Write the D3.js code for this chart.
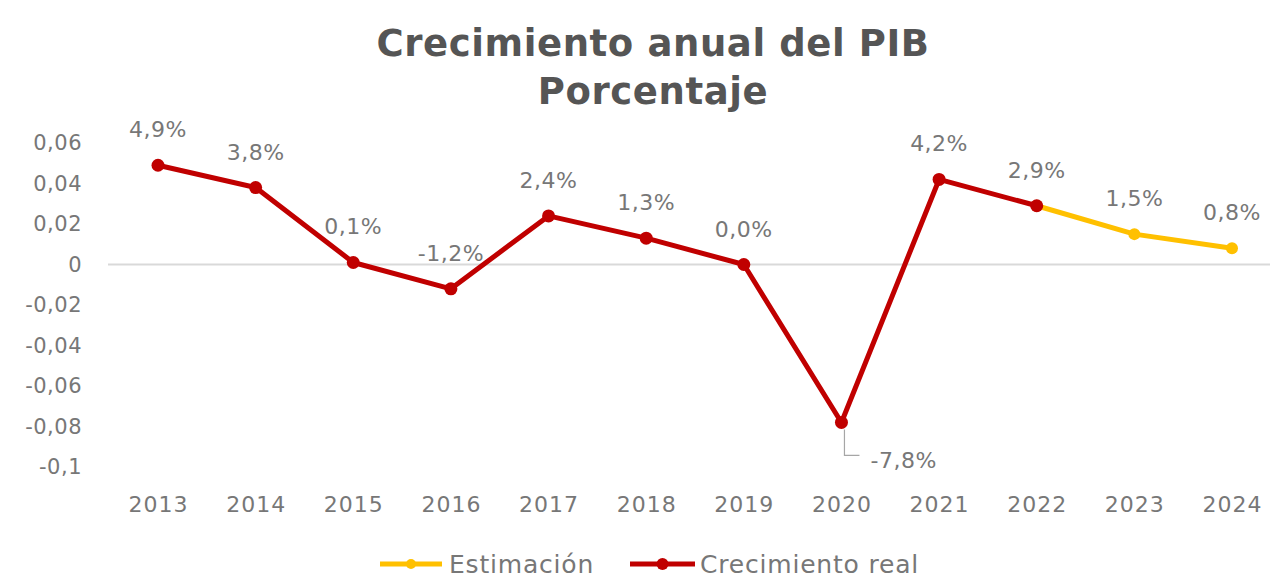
<!DOCTYPE html>
<html><head><meta charset="utf-8">
<script src="https://cdn.jsdelivr.net/npm/d3@7"></script>
<style>
html,body{margin:0;padding:0;background:#fff;}
svg{display:block;font-family:"DejaVu Sans",sans-serif;}
</style></head>
<body>
<svg id="chart" width="1272" height="578"></svg>
<script>
const years = ["2013","2014","2015","2016","2017","2018","2019","2020","2021","2022","2023","2024"];
const realYears = ["2013","2014","2015","2016","2017","2018","2019","2020","2021","2022"];
const realValues = [0.049,0.038,0.001,-0.012,0.024,0.013,0.000,-0.078,0.042,0.029];
const estYears = ["2022","2023","2024"];
const estValues = [0.029,0.015,0.008];
const yTicks = [0.06,0.04,0.02,0,-0.02,-0.04,-0.06,-0.08,-0.1];
const yTickLabels = ["0,06","0,04","0,02","0","-0,02","-0,04","-0,06","-0,08","-0,1"];
const titleLines = ["Crecimiento anual del PIB","Porcentaje"];
const seriesNames = ["Estimación","Crecimiento real"];

const RED = "#c00000", YEL = "#ffc000", GRAY = "#777777";
const svg = d3.select("#chart");

const x = d3.scalePoint().domain(years).range([158, 1232]);
const y = d3.scaleLinear().domain([-0.1, 0.06]).range([467, 143]);

// title
svg.append("g").selectAll("text").data(titleLines).join("text")
  .attr("x", 653).attr("y", (d,i)=>56 + i*48)
  .attr("text-anchor","middle")
  .attr("font-size", 37).attr("font-weight","bold").attr("fill","#555555")
  .attr("letter-spacing", 0.6)
  .text(d=>d);

// y axis labels
const yAxis = d3.axisLeft(y).tickValues(yTicks).tickSize(0).tickPadding(0)
  .tickFormat((d,i)=>yTickLabels[i]);
const gy = svg.append("g").attr("transform","translate(82,0)").call(yAxis);
gy.select(".domain").remove();
gy.selectAll("text").attr("font-size",21).attr("fill",GRAY).attr("font-family","DejaVu Sans")
  .attr("letter-spacing",0.5);

// zero line
svg.append("line").attr("x1",108).attr("x2",1270).attr("y1",y(0)).attr("y2",y(0))
  .attr("stroke","#d9d9d9").attr("stroke-width",2);

// x axis labels
const xAxis = d3.axisBottom(x).tickSize(0).tickPadding(0);
const gx = svg.append("g").attr("transform","translate(0,496)").call(xAxis);
gx.select(".domain").remove();
gx.selectAll("text").attr("font-size",22).attr("fill",GRAY).attr("font-family","DejaVu Sans")
  .attr("letter-spacing",1);

const line = d3.line().x(d=>x(d[0])).y(d=>y(d[1]));
const est = estYears.map((d,i)=>[d, estValues[i]]);
const real = realYears.map((d,i)=>[d, realValues[i]]);

svg.append("path").datum(est).attr("d",line).attr("fill","none")
  .attr("stroke",YEL).attr("stroke-width",5).attr("stroke-linejoin","round");
svg.append("g").selectAll("circle").data(est).join("circle")
  .attr("cx",d=>x(d[0])).attr("cy",d=>y(d[1])).attr("r",6).attr("fill",YEL);

svg.append("path").datum(real).attr("d",line).attr("fill","none")
  .attr("stroke",RED).attr("stroke-width",5).attr("stroke-linejoin","round");
svg.append("g").selectAll("circle").data(real).join("circle")
  .attr("cx",d=>x(d[0])).attr("cy",d=>y(d[1])).attr("r",6.5).attr("fill",RED);

// data labels
const fmt = v => (v*100).toFixed(1).replace(".",",") + "%";
const labels = real.concat(est.slice(1));
svg.append("g").selectAll("text").data(labels.filter(d=>d[1] > -0.05)).join("text")
  .attr("x",d=>x(d[0])).attr("y",d=>y(d[1]) - 28)
  .attr("text-anchor","middle").attr("font-size",22).attr("fill",GRAY)
  .attr("letter-spacing",0.5)
  .text(d=>fmt(d[1]));

// leader label for large negative value
labels.filter(d=>d[1] <= -0.05).forEach(d=>{
  const px = x(d[0]), py = y(d[1]);
  svg.append("path").attr("d",`M${px+3},${py+7}V${py+33}H${px+18}`)
    .attr("fill","none").attr("stroke","#a6a6a6").attr("stroke-width",1.2);
  svg.append("text").attr("x",px+29).attr("y",py+46).attr("font-size",22)
    .attr("letter-spacing",0.5).attr("fill",GRAY).text(fmt(d[1]));
});

// legend
const legend = [
  {name:seriesNames[0], color:YEL, x1:380, x2:442, r:5, tx:449},
  {name:seriesNames[1], color:RED, x1:630, x2:695, r:6, tx:700}
];
const lg = svg.append("g");
legend.forEach(l=>{
  lg.append("line").attr("x1",l.x1).attr("x2",l.x2).attr("y1",564).attr("y2",564)
    .attr("stroke",l.color).attr("stroke-width",5);
  lg.append("circle").attr("cx",(l.x1+l.x2)/2).attr("cy",564).attr("r",l.r).attr("fill",l.color);
  lg.append("text").attr("x",l.tx).attr("y",573).attr("font-size",25).attr("fill",GRAY)
    .attr("letter-spacing",0.8).text(l.name);
});
</script>
</body></html>
